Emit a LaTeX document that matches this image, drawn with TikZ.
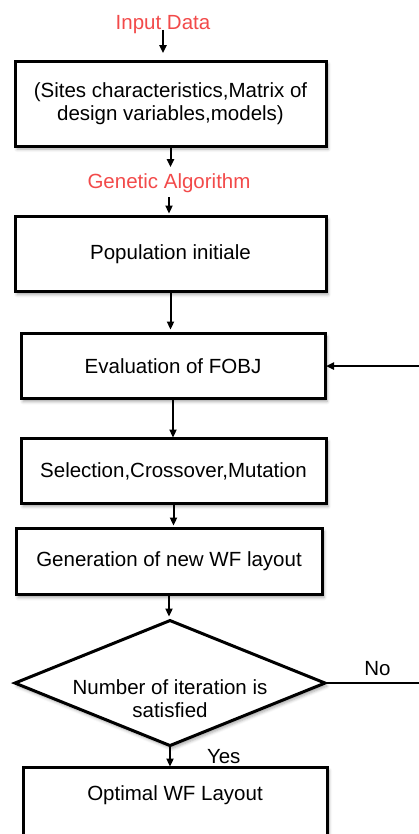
\documentclass[tikz,border=0pt]{standalone}
\usepackage{fontspec}
\setmainfont{Liberation Sans}
\usepackage{xcolor}
\definecolor{gared}{HTML}{F24A4A}
\usetikzlibrary{arrows.meta,positioning,shapes.geometric,shadows.blur}

\begin{document}
\begin{tikzpicture}[x=1pt,y=-1pt,
  box/.style={draw=black,line width=3pt,fill=white,outer sep=0pt,align=center,
    blur shadow={shadow xshift=2pt,shadow yshift=-3pt,shadow blur radius=3pt,shadow opacity=35}},
  cond/.style={box,diamond,aspect=2.48,inner sep=0pt},
  lbl/.style={inner sep=0pt,text height=14.7pt,text depth=0pt},
  arr/.style={-{Triangle[length=8pt,width=7pt]},line width=2pt,shorten >=1pt},
  font=\fontsize{20.5pt}{23pt}\selectfont]
  \useasboundingbox (0,0) rectangle (419,834);
  \clip (0,0) rectangle (419,834);
  \node[lbl,text=gared] (input) at (163,22.3) {Input Data};
  \node[box,below=31.3pt of input,xshift=7.5pt,minimum width=311pt,minimum height=85pt] (data)
    {(Sites characteristics,Matrix of\\design variables,models)};
  \node[lbl,text=gared,below=27.6pt of data,xshift=-1.5pt] (ga) {Genetic Algorithm};
  \node[box,below=27.7pt of ga,xshift=1.5pt,minimum width=311pt,minimum height=75pt] (pop)
    {Population initiale};
  \node[box,below=42pt of pop,xshift=2.5pt,minimum width=304pt,minimum height=65pt] (eval)
    {Evaluation of FOBJ};
  \node[box,below=40pt of eval,xshift=0.5pt,minimum width=305pt,minimum height=65pt] (sel)
    {Selection,Crossover,Mutation};
  \node[box,below=25pt of sel,xshift=-4.5pt,minimum width=306pt,minimum height=66pt] (gen)
    {Generation of new WF layout};
  \node[cond,below=26pt of gen,xshift=1pt,minimum width=310pt,minimum height=125pt] (dec)
    {\raisebox{-23.9pt}[0pt][0pt]{\begin{tabular}{@{}c@{}}Number of iteration is\\satisfied\end{tabular}}};
  \node[box,below=22pt of dec,xshift=5pt,minimum width=304pt,minimum height=78pt,
    text height=14.7pt,text depth=26pt] (opt) {Optimal WF Layout};
  \coordinate (loop) at (430,365);
  \draw[arr,shorten >=8pt] (input.south) -- (input.south |- data.north);
  \draw[arr,shorten >=6.6pt] (data.south) -- (data.south |- ga.north);
  \draw[arr,shorten <=8.5pt,shorten >=3pt] (ga.south) -- (ga.south |- pop.north);
  \draw[arr,shorten >=4pt] (pop.south) -- (pop.south |- eval.north);
  \draw[arr] (eval.south) -- (eval.south |- sel.north);
  \draw[arr,shorten >=3pt] (sel.south) -- (sel.south |- gen.north);
  \draw[arr,shorten >=4pt] (gen.south) -- (gen.south |- dec.north);
  \draw[arr] (dec.south) -- node[lbl,right=36pt] (yes) {Yes} (dec.south |- opt.north);
  \draw[arr] (dec.east) -- node[lbl,above=7pt] (no) {No} (dec.east -| loop) |- (eval.east);
\end{tikzpicture}
\end{document}
